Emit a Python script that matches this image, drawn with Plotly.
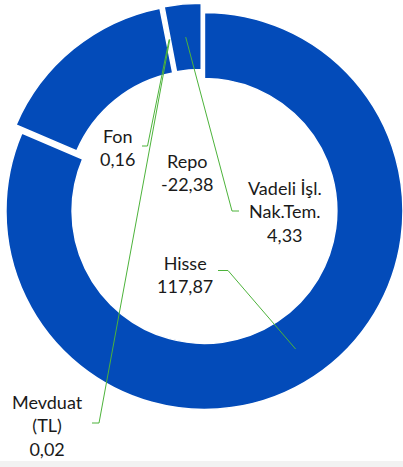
import math
import plotly.graph_objects as go

# ---- data ----
categories = ["Hisse", "Repo", "Fon", "Mevduat (TL)", "Vadeli İşl. Nak.Tem."]
values = [117.87, -22.38, 0.16, 0.02, 4.33]
label_names = ["Hisse", "Repo", "Fon", "Mevduat<br>(TL)", "Vadeli İşl.<br>Nak.Tem."]

# ---- layout / style ----
W, H = 403, 467
R = 198.5            # outer radius (px)
HOLE = 0.667
PULL_PX = 5.0        # explosion distance (px)
CENTER = (201.7, 206.8)
RMID = R * (1 + HOLE) / 2
BLUE = "#034BB9"
GREEN = "#4DB33B"
TEXT = "#1a1a1a"
FONT = "Lato"

label_pos = {"Hisse": (185, 274.5), "Repo": (187, 172.5), "Fon": (117, 147.5),
             "Mevduat (TL)": (47.5, 425), "Vadeli İşl. Nak.Tem.": (285, 211)}
leader_tick = {"Hisse": ((218, 270.5), (228, 270.5)),
               "Fon": ((142, 146), (147.5, 146)),
               "Mevduat (TL)": ((92, 423), (99, 423)),
               "Vadeli İşl. Nak.Tem.": ((239, 211), (232, 211))}

def px(x):
    return x / W

def py(y):
    return 1 - y / H

abs_vals = [abs(v) for v in values]
total = sum(abs_vals)

fig = go.Figure()
shapes = []
annotations = []
cum = 0.0
n = len(values)
for i, (cat, v) in enumerate(zip(categories, abs_vals)):
    a0 = cum / total * 360
    cum += v
    a1 = cum / total * 360
    mid = math.radians((a0 + a1) / 2)
    sx, sy = math.sin(mid), -math.cos(mid)
    cx = CENTER[0] + PULL_PX * sx
    cy = CENTER[1] + PULL_PX * sy
    dx = [max(0.0, px(cx - R)), min(1.0, px(cx + R))]
    dy = [max(0.0, py(cy + R)), min(1.0, py(cy - R))]
    colors = [BLUE if j == i else "rgba(0,0,0,0)" for j in range(n)]
    lw = [1.5 if j == i else 0 for j in range(n)]
    lc = ["white" if j == i else "rgba(0,0,0,0)" for j in range(n)]
    fig.add_trace(go.Pie(
        labels=categories, values=abs_vals, sort=False, direction="clockwise",
        rotation=0, hole=HOLE, domain=dict(x=dx, y=dy),
        marker=dict(colors=colors, line=dict(color=lc, width=lw)),
        textinfo="none", hoverinfo="skip", showlegend=False,
    ))
    # leader line target: middle of ring at slice mid-angle
    tx = cx + RMID * sx
    ty = cy + RMID * sy
    if cat in leader_tick:
        (x0, y0), (x1, y1) = leader_tick[cat]
        shapes.append(dict(
            type="path", xref="paper", yref="paper",
            path=f"M {px(x0)} {py(y0)} L {px(x1)} {py(y1)} L {px(tx)} {py(ty)}",
            line=dict(color=GREEN, width=1),
        ))
    lx, ly = label_pos[cat]
    val_txt = f"{values[i]:.2f}".replace(".", ",")
    annotations.append(dict(
        x=px(lx), y=py(ly), xref="paper", yref="paper",
        text=f"{label_names[i]}<br>{val_txt}", showarrow=False,
        xanchor="center", yanchor="middle", align="center",
        font=dict(family=FONT, size=18, color=TEXT),
    ))

# light strip at the bottom of the image
shapes.insert(0, dict(type="rect", xref="paper", yref="paper",
                      x0=0, x1=1, y0=0, y1=py(461), fillcolor="#f2f2f2",
                      line=dict(width=0), layer="below"))

fig.update_layout(
    width=W, height=H, margin=dict(l=0, r=0, t=0, b=0),
    paper_bgcolor="white", plot_bgcolor="white",
    shapes=shapes, annotations=annotations,
)
fig.write_html("out.html", config={"displayModeBar": False},
               post_script="document.body.style.margin='0';document.body.style.overflow='hidden';")
